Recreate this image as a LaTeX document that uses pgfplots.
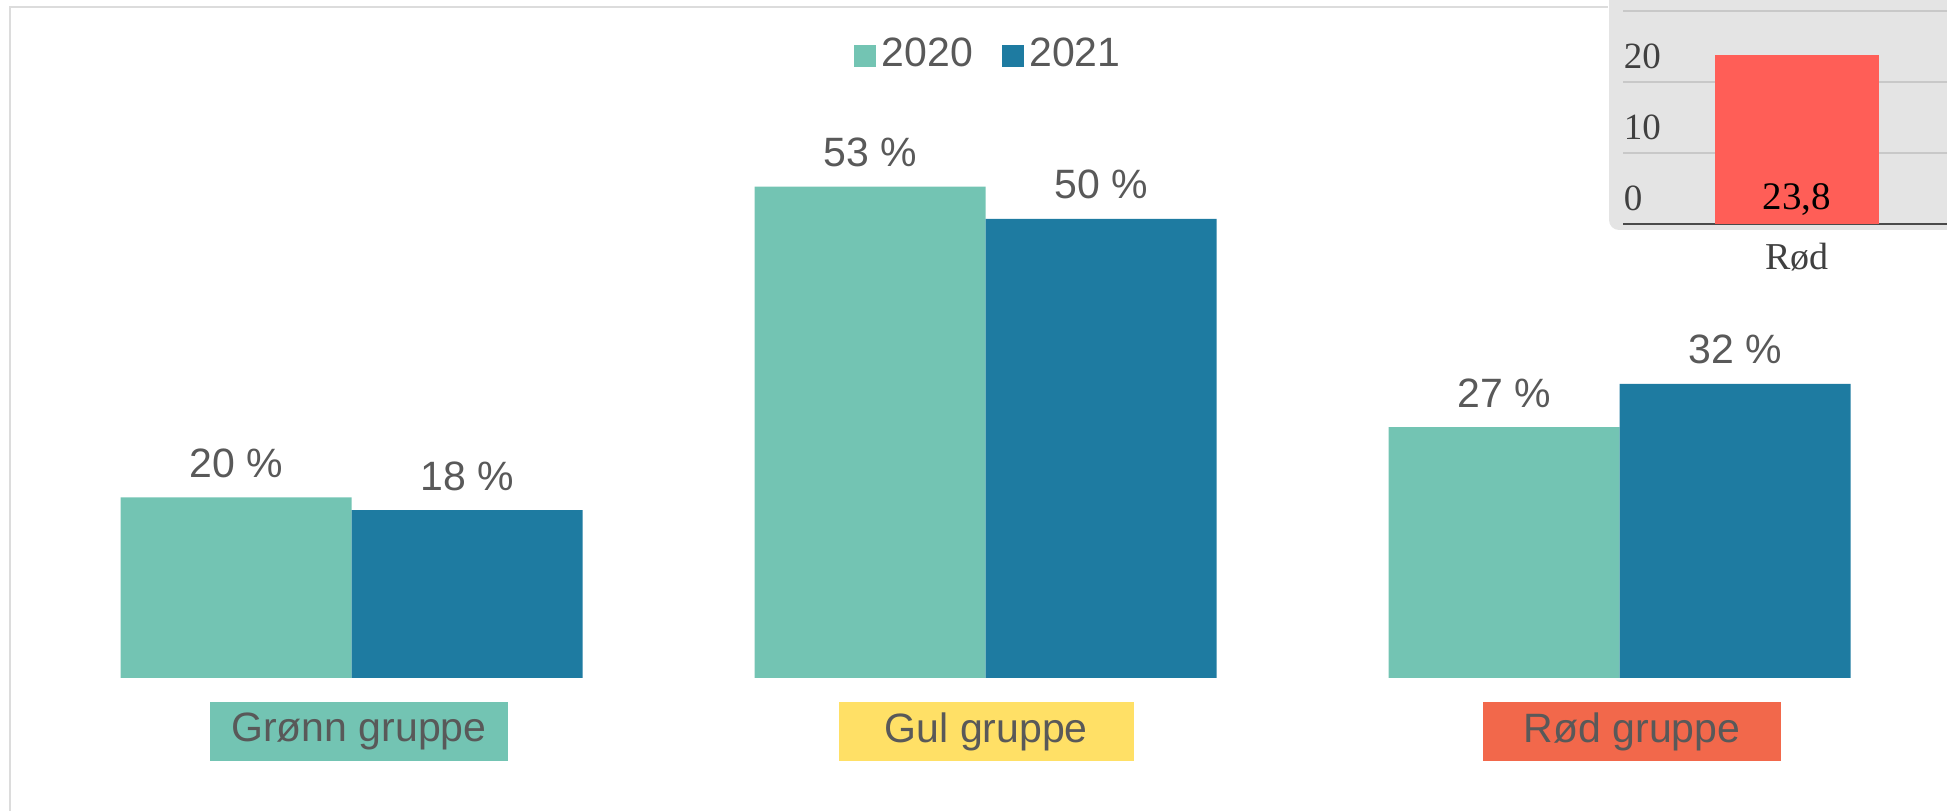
\documentclass[border=0pt]{standalone}
\usepackage{pgfplots}
\pgfplotsset{compat=1.18}
\usepackage{pgfplotstable}
\usepackage{fontspec}
\setmainfont{Liberation Sans}
\newfontfamily\insetfont{Liberation Serif}
\definecolor{teal20}{HTML}{73C4B3}
\definecolor{blue21}{HTML}{1E7BA1}
\definecolor{lblgray}{HTML}{595959}
\definecolor{grgreen}{HTML}{73C4B3}
\definecolor{gryellow}{HTML}{FFE066}
\definecolor{grred}{HTML}{F2684B}
\definecolor{insetbg}{HTML}{E4E4E4}
\definecolor{insetgrid}{HTML}{C8C8C8}
\definecolor{insetaxis}{HTML}{4A4A4A}
\definecolor{insetbar}{HTML}{FF5E57}
\definecolor{insettext}{HTML}{404040}
\definecolor{framegray}{HTML}{DCDCDC}

\pgfplotstableread{
x y2020 y2021
0 19.6 18.2
1 53.3 49.8
2 27.2 31.9
}\maindata

\begin{document}
\begin{tikzpicture}
\draw[framegray, line width=0.5pt] (2.5pt,0pt) -- (2.5pt,201pt) -- (402pt,201pt);

\begin{axis}[
  at={(8.625pt,33.25pt)}, anchor=south west,
  scale only axis, width=475.5pt, height=138.3pt,
  xmin=-0.5, xmax=2.5, ymin=0, ymax=60,
  axis lines=none, xtick=\empty, ytick=\empty,
  ybar=0pt, bar width=57.75pt,
  /pgf/number format/assume math mode=true,
  nodes near coords={\pgfmathprintnumber[fixed,precision=0]{\pgfplotspointmeta}\ \%},
  every node near coord/.append style={anchor=base, yshift=5pt, inner sep=0pt,
    font=\fontsize{10.25pt}{12pt}\selectfont, text=lblgray},
  legend columns=2,
  legend style={at={(axis description cs:0.5024,1.125)}, anchor=center,
    draw=none, fill=none, font=\fontsize{10.25pt}{12pt}\selectfont, text=lblgray,
    nodes={inner sep=1.3pt},
    /tikz/every even column/.append style={column sep=6pt}},
  legend image code/.code={\fill[#1] (0pt,-2.75pt) rectangle (5.5pt,2.75pt);},
  clip=false,
]
\addplot[fill=teal20, draw=none] table[x=x, y=y2020] {\maindata};
\addplot[fill=blue21, draw=none] table[x=x, y=y2021] {\maindata};
\legend{2020,2021}
\end{axis}

\begin{scope}[every node/.style={inner sep=0pt, minimum height=14.75pt, text=lblgray,
    font=\fontsize{10.25pt}{12pt}\selectfont}]
\node[fill=grgreen, minimum width=74.5pt] at (89.75pt,19.875pt) {Grønn gruppe};
\node[fill=gryellow, minimum width=73.75pt] at (246.6pt,19.875pt) {Gul gruppe};
\node[fill=grred, minimum width=74.5pt] at (408pt,19.875pt) {Rød gruppe};
\end{scope}

\fill[insetbg, rounded corners=2.5pt] (402.25pt,145.25pt) rectangle (500pt,215pt);

\begin{axis}[
  at={(405.75pt,146.75pt)}, anchor=south west,
  scale only axis, width=91.75pt, height=56pt,
  xmin=1623, xmax=1990, ymin=0, ymax=31.55,
  axis x line*=bottom, axis y line*=left,
  y axis line style={draw=none},
  x axis line style={draw=insetaxis, line width=0.6pt},
  xtick={1797}, xticklabels={Rød},
  ytick={0,10,20},
  extra y ticks={30}, extra y tick labels={},
  major tick length=0pt,
  ymajorgrids, grid style={insetgrid, line width=0.35pt},
  extra y tick style={grid style={insetgrid, line width=0.35pt}},
  /pgf/number format/assume math mode=true,
  yticklabel style={anchor=base west, inner sep=0pt, yshift=3.4pt, text=insettext,
    font=\insetfont\fontsize{9.25pt}{11pt}\selectfont},
  xticklabel style={anchor=base, inner sep=0pt, yshift=-11.5pt, text=insettext,
    font=\insetfont\fontsize{9.5pt}{11pt}\selectfont},
]
\addplot[ybar, bar width=164, fill=insetbar, draw=none] coordinates {(1797,23.8)};
\addplot[only marks, mark=none, point meta=explicit,
  nodes near coords={\pgfmathprintnumber[use comma,fixed,fixed zerofill,precision=1]{\pgfplotspointmeta}},
  every node near coord/.append style={anchor=base, yshift=3.5pt, inner sep=0pt, text=black,
    font=\insetfont\fontsize{9.75pt}{11pt}\selectfont}]
  coordinates {(1797,0) [23.8]};
\end{axis}

\pgfresetboundingbox
\useasboundingbox (0pt,0pt) rectangle (486.75pt,202.75pt);
\end{tikzpicture}
\end{document}
